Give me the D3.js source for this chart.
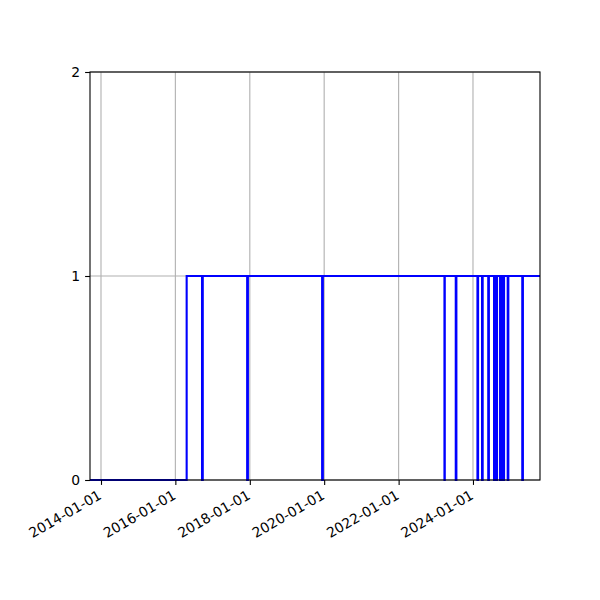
<!DOCTYPE html>
<html>
<head>
<meta charset="utf-8">
<script src="https://cdn.jsdelivr.net/npm/d3@7"></script>
<style>
  body { margin: 0; background: #fff; }
  svg text { font-family: "DejaVu Sans", sans-serif; font-size: 13.9px; fill: #000; }
</style>
</head>
<body>
<div id="chart"></div>
<script>
// transition dates (value holds until the next date)
var dates = [
  "2013-09-15", "2016-04-21",
  "2016-09-19", "2016-09-26",
  "2017-12-06", "2017-12-13",
  "2019-12-12", "2019-12-19",
  "2023-03-27", "2023-03-30",
  "2023-07-16", "2023-07-22",
  "2024-02-14", "2024-02-20",
  "2024-03-30", "2024-04-05",
  "2024-05-30", "2024-06-05",
  "2024-07-26", "2024-08-02", "2024-08-09", "2024-08-15", "2024-08-19", "2024-08-24",
  "2024-09-23", "2024-09-30", "2024-10-08", "2024-10-16", "2024-10-24", "2024-11-01",
  "2024-12-07", "2024-12-13",
  "2025-04-29", "2025-05-05",
  "2025-10-20"
];
var values = [
  0, 1,
  0, 1,
  0, 1,
  0, 1,
  0, 1,
  0, 1,
  0, 1,
  0, 1,
  0, 1,
  0, 1, 0, 1, 0, 1,
  0, 1, 0, 1, 0, 1,
  0, 1,
  0, 1,
  1
];
var xTicks = ["2014-01-01", "2016-01-01", "2018-01-01", "2020-01-01", "2022-01-01", "2024-01-01"];
var yTicks = [0, 1, 2];

var parseDate = d3.timeParse("%Y-%m-%d");
var data = dates.map(function(d, i) { return {date: parseDate(d), value: values[i]}; });

var margin = {top: 72, right: 60, bottom: 120, left: 90},
    width = 600 - margin.left - margin.right,
    height = 600 - margin.top - margin.bottom;

var svg = d3.select("#chart")
            .append("svg")
              .attr("width", 600)
              .attr("height", 600)
            .append("g")
              .attr("transform", "translate(" + margin.left + "," + margin.top + ")");

var x = d3.scaleTime()
          .domain(d3.extent(data, function(d) { return d.date; }))
          .range([0, width]);
var y = d3.scaleLinear()
          .domain([0, 2])
          .range([height, 0]);

// grid
svg.append("g")
    .selectAll("line")
    .data(xTicks.map(parseDate))
    .enter().append("line")
      .attr("x1", function(d) { return x(d); })
      .attr("x2", function(d) { return x(d); })
      .attr("y1", 0)
      .attr("y2", height)
      .attr("stroke", "#b0b0b0")
      .attr("stroke-width", 1.1);
svg.append("g")
    .selectAll("line")
    .data(yTicks)
    .enter().append("line")
      .attr("x1", 0)
      .attr("x2", width)
      .attr("y1", function(d) { return y(d); })
      .attr("y2", function(d) { return y(d); })
      .attr("stroke", "#b0b0b0")
      .attr("stroke-width", 1.1);

// step line
var line = d3.line()
             .curve(d3.curveStepAfter)
             .x(function(d) { return x(d.date); })
             .y(function(d) { return y(d.value); });

svg.append("path")
    .datum(data)
    .attr("fill", "none")
    .attr("stroke", "#0000ff")
    .attr("stroke-width", 2.1)
    .attr("d", line);

// frame
svg.append("rect")
    .attr("width", width)
    .attr("height", height)
    .attr("fill", "none")
    .attr("stroke", "#000")
    .attr("stroke-width", 1.1);

// x axis
var xAxis = d3.axisBottom(x)
              .tickValues(xTicks.map(parseDate))
              .tickSize(4.9)
              .tickFormat(d3.timeFormat("%Y-%m-%d"));
var gx = svg.append("g")
    .attr("transform", "translate(0," + height + ")")
    .call(xAxis);
gx.select(".domain").remove();
gx.selectAll("line").attr("stroke", "#000").attr("stroke-width", 1.1);
gx.selectAll("text")
    .style("font-size", "13.9px")
    .style("font-family", "DejaVu Sans, sans-serif")
    .style("text-anchor", "end")
    .attr("x", 0)
    .attr("y", 0)
    .attr("dy", "0")
    .attr("transform", "translate(1,18) rotate(-30)");

// y axis
var yAxis = d3.axisLeft(y)
              .tickValues(yTicks)
              .tickSize(4.9)
              .tickPadding(4.9)
              .tickFormat(d3.format("d"));
var gy = svg.append("g").call(yAxis);
gy.select(".domain").remove();
gy.selectAll("line").attr("stroke", "#000").attr("stroke-width", 1.1);
gy.selectAll("text")
    .style("font-size", "13.9px")
    .style("font-family", "DejaVu Sans, sans-serif");
</script>
</body>
</html>
